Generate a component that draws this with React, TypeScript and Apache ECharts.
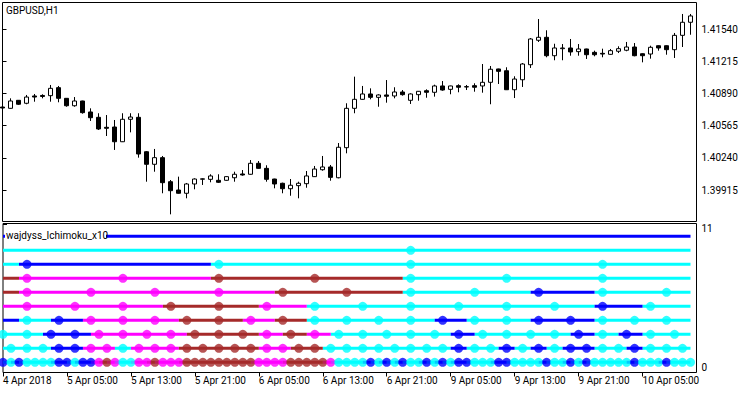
import React, { useEffect, useRef } from "react";
import * as echarts from "echarts";

const chartTitle = "GBPUSD,H1";
const indicatorName = "wajdyss_Ichimoku_x10";

// H1 bars starting 4 Apr 2018 21:00 (broker time), weekend skipped
const opens = [
  1.40754, 1.40741, 1.40822, 1.40792, 1.40866, 1.40871, 1.40869, 1.4095, 1.40842, 1.40767,
  1.40815, 1.40704, 1.4065, 1.40549, 1.40552, 1.40403, 1.4063, 1.4065, 1.40302, 1.40175,
  1.40242, 1.39999, 1.39915, 1.39882, 1.39976, 1.40024, 1.40023, 1.40013, 1.40013, 1.40039,
  1.40077, 1.40074, 1.40185, 1.40134, 1.40026, 1.39983, 1.39928, 1.39959, 1.39979, 1.4005,
  1.4012, 1.40148, 1.40039, 1.40343, 1.40741, 1.40832, 1.40886, 1.40852, 1.40876, 1.40866,
  1.40906, 1.40822, 1.40879, 1.40919, 1.40903, 1.40967, 1.40933, 1.4097, 1.4096, 1.4097,
  1.40967, 1.41004, 1.41139, 1.41121, 1.40929, 1.4103, 1.41182, 1.41429, 1.41459, 1.41273,
  1.41344, 1.41351, 1.41314, 1.41341, 1.41307, 1.41297, 1.41287, 1.41318, 1.41328, 1.41361,
  1.41293, 1.4129, 1.41374, 1.41374, 1.41334, 1.41479, 1.41611,
];
const closes = [
  1.40744, 1.40815, 1.40782, 1.40855, 1.40855, 1.40861, 1.40943, 1.40842, 1.40767, 1.40815,
  1.40697, 1.40646, 1.40532, 1.40539, 1.40403, 1.4063, 1.40653, 1.40279, 1.40175, 1.40242,
  1.39989, 1.39908, 1.39882, 1.39976, 1.40026, 1.40028, 1.40057, 1.39993, 1.4005, 1.40074,
  1.40067, 1.40185, 1.40134, 1.40023, 1.39976, 1.39928, 1.39963, 1.39983, 1.40057, 1.40127,
  1.40148, 1.40043, 1.40347, 1.40741, 1.40832, 1.40886, 1.40852, 1.40876, 1.40863, 1.40906,
  1.40879, 1.40886, 1.40913, 1.40903, 1.40967, 1.40926, 1.40967, 1.40954, 1.40957, 1.40954,
  1.41004, 1.41136, 1.41115, 1.40929, 1.41037, 1.41189, 1.41442, 1.41459, 1.41273, 1.41351,
  1.41351, 1.41311, 1.41341, 1.41283, 1.41283, 1.4129, 1.41324, 1.41344, 1.41361, 1.41273,
  1.41273, 1.41358, 1.41351, 1.41334, 1.41479, 1.41611, 1.41675,
];
const highs = [
  1.40764, 1.40842, 1.40825, 1.40876, 1.40886, 1.40883, 1.40977, 1.40967, 1.40845, 1.40855,
  1.40818, 1.40741, 1.40691, 1.40673, 1.40623, 1.40691, 1.40691, 1.40691, 1.40309, 1.4033,
  1.40259, 1.40016, 1.4005, 1.39986, 1.40033, 1.40033, 1.40074, 1.40074, 1.40054, 1.401,
  1.40117, 1.40218, 1.40208, 1.40165, 1.40029, 1.39989, 1.40026, 1.39999, 1.40107, 1.40158,
  1.40259, 1.40168, 1.4039, 1.40792, 1.41061, 1.40967, 1.40943, 1.40883, 1.41027, 1.40954,
  1.40926, 1.40893, 1.40916, 1.40933, 1.4098, 1.41017, 1.4097, 1.40984, 1.40977, 1.40994,
  1.41189, 1.41169, 1.41142, 1.41156, 1.41065, 1.41199, 1.41452, 1.41644, 1.4153, 1.41394,
  1.41391, 1.41442, 1.41391, 1.41344, 1.41324, 1.41344, 1.41341, 1.41368, 1.41412, 1.41401,
  1.41297, 1.41374, 1.41378, 1.41378, 1.41503, 1.41695, 1.41695,
];
const lows = [
  1.40734, 1.40737, 1.40775, 1.40782, 1.40808, 1.40842, 1.40808, 1.40802, 1.40757, 1.40757,
  1.40687, 1.40613, 1.40522, 1.40461, 1.4032, 1.404, 1.40498, 1.40242, 1.39999, 1.401,
  1.39882, 1.39669, 1.39878, 1.39831, 1.39922, 1.39966, 1.39993, 1.39986, 1.40009, 1.39999,
  1.4006, 1.4007, 1.4013, 1.39999, 1.39932, 1.39882, 1.39857, 1.39831, 1.39938, 1.40047,
  1.4011, 1.40009, 1.40033, 1.40286, 1.40691, 1.40828, 1.40832, 1.40757, 1.40798, 1.40842,
  1.40869, 1.40785, 1.40818, 1.40848, 1.40859, 1.40919, 1.40883, 1.40903, 1.40926, 1.40909,
  1.40899, 1.40782, 1.40987, 1.40926, 1.40845, 1.40957, 1.41149, 1.41412, 1.41257, 1.41227,
  1.41227, 1.41273, 1.41273, 1.4124, 1.41267, 1.41257, 1.41283, 1.413, 1.41318, 1.41267,
  1.41206, 1.41243, 1.41324, 1.41283, 1.4125, 1.41361, 1.41485,
];

const priceTicks = [1.39915, 1.4024, 1.40565, 1.4089, 1.41215, 1.4154];
const timeTickBars = [0, 8, 16, 24, 32, 40, 48, 56, 64, 72, 80];
const timeTickLabels = [
  "4 Apr 2018", "5 Apr 05:00", "5 Apr 13:00", "5 Apr 21:00", "6 Apr 05:00", "6 Apr 13:00",
  "6 Apr 21:00", "9 Apr 05:00", "9 Apr 13:00", "9 Apr 21:00", "10 Apr 05:00",
];

// Indicator rows (bottom = level 1). One letter per higher-timeframe bar,
// first letter = period containing the first visible bar.
// C = aqua, B = blue, M = magenta, R = brown
const rowTimeframes = ["H1", "H2", "H3", "H4", "H6", "H8", "H12", "D1", "W1", "MN1"];
const rowStates = [
  "BCBCCCCBBCBBMRMCCMMRMMMRRRRRRRRRMMMMRRRRRMCCCCBCBCBCCBCBCBBCCCBBCCCCBCCBCBCCCCCBCCCBCCC",
  "CCCCBBMMCMMMRRRRRMMRRCCCCCCCCBCCBCBCBBCCBCCC",
  "CCBBMMMMRRRMRMCCCCCBCCCCBCBCC",
  "BCBMMMRRMRCCCCBCCBBCCC",
  "MMMMRRMCCCCCCBC",
  "RMMMMRRCCBCC",
  "RMMRRCCC",
  "CBCCC",
  "CC",
  "B",
];
const stateColors: Record<string, string> = {
  C: "#00FFFF",
  B: "#0000FF",
  M: "#FF00FF",
  R: "#A52A2A",
};
const axisTopLabel = "11";
const axisBottomLabel = "0";

const FONT = "Roboto";

function barTimes(n: number): Date[] {
  const out: Date[] = [];
  let t = Date.UTC(2018, 3, 4, 21);
  while (out.length < n) {
    const d = new Date(t);
    const wd = d.getUTCDay();
    if (wd !== 0 && wd !== 6) out.push(d);
    t += 3600000;
  }
  return out;
}

function isPeriodStart(tf: string, d: Date): boolean {
  const h = d.getUTCHours();
  if (tf === "D1") return h === 0;
  if (tf === "W1") return h === 0 && d.getUTCDay() === 1;
  if (tf === "MN1") return h === 0 && d.getUTCDate() === 1;
  const hrs = parseInt(tf.slice(1), 10);
  return h % hrs === 0;
}

export default function App() {
  const ref = useRef<HTMLDivElement>(null);

  useEffect(() => {
    if (!ref.current) return;
    const chart = echarts.init(ref.current, undefined, { renderer: "svg" });
    const n = opens.length;
    const times = barTimes(n);

    const candleData = opens.map((o, i) => [i, o, closes[i], lows[i], highs[i]]);

    const lineData: Record<string, any[]> = { C: [], B: [], M: [], R: [] };
    const dots: any[] = [];
    rowTimeframes.forEach((tf, r) => {
      const level = r + 1;
      const states = rowStates[r];
      const cols: string[] = [];
      let idx = 0;
      for (let i = 0; i < n; i++) {
        const start = isPeriodStart(tf, times[i]);
        if (i > 0 && start) idx++;
        const c = states[Math.min(idx, states.length - 1)];
        cols.push(c);
        if (start) dots.push({ value: [i, level], itemStyle: { color: stateColors[c] } });
      }
      let i = 0;
      while (i < n) {
        const c = cols[i];
        let k = i;
        while (k + 1 < n && cols[k + 1] === c) k++;
        const from = Math.max(0, i - 1);
        for (let j = from; j <= k; j++) lineData[c].push([j, level]);
        lineData[c].push([k + 0.5, "-"]);
        i = k + 1;
      }
    });

    const gridLeft = 2.5;
    const gridRight = 750 - 696.5;
    const xMin = 0;
    const xMax = 86.75;

    const priceMax = 1.41811;
    const priceMin = 1.395965;
    const lvlMin = 0.2714;
    const lvlMax = 10.914;

    const lineSeries = Object.keys(lineData).map((c) => ({
      type: "line",
      xAxisIndex: 1,
      yAxisIndex: 1,
      data: lineData[c],
      showSymbol: false,
      symbol: "none",
      connectNulls: false,
      lineStyle: { color: stateColors[c], width: 3 },
      z: 2,
      silent: true,
    }));

    chart.setOption({
      animation: false,
      backgroundColor: "#ffffff",
      textStyle: { fontFamily: FONT },
      grid: [
        {
          left: gridLeft, right: gridRight, top: 2.5, height: 219,
          show: true, borderColor: "#000", borderWidth: 1, backgroundColor: "#fff",
        },
        {
          left: gridLeft, right: gridRight, top: 223.5, height: 149,
          show: true, borderColor: "#000", borderWidth: 1, backgroundColor: "#fff",
        },
      ],
      xAxis: [
        {
          type: "value", gridIndex: 0, min: xMin, max: xMax, show: false,
          splitLine: { show: false },
        },
        {
          type: "value", gridIndex: 1, min: xMin, max: xMax,
          axisLine: { show: false },
          splitLine: { show: false },
          axisTick: {
            show: true, length: 4, inside: false, customValues: timeTickBars,
            lineStyle: { color: "#000", width: 1 },
          },
          axisLabel: {
            show: true, customValues: timeTickBars, align: "left", verticalAlign: "top",
            margin: 3, fontSize: 10, color: "#000", fontFamily: FONT,
            formatter: (v: number) => {
              const k = timeTickBars.indexOf(Math.round(v));
              return k >= 0 ? timeTickLabels[k] : "";
            },
          },
        },
      ],
      yAxis: [
        {
          type: "value", gridIndex: 0, position: "right", min: priceMin, max: priceMax,
          scale: true,
          axisLine: { show: false },
          splitLine: { show: false },
          axisTick: {
            show: true, length: 4, customValues: priceTicks,
            lineStyle: { color: "#000", width: 1 },
          },
          axisLabel: {
            show: true, customValues: priceTicks, margin: 5, fontSize: 10, color: "#000",
            fontFamily: FONT, formatter: (v: number) => v.toFixed(5),
          },
        },
        {
          type: "value", gridIndex: 1, position: "right", min: lvlMin, max: lvlMax,
          axisLine: { show: false },
          splitLine: { show: false },
          axisTick: {
            show: true, length: 4, customValues: [0.3, 10.89],
            lineStyle: { color: "#000", width: 1 },
          },
          axisLabel: {
            show: true, customValues: [0.614, 10.543], margin: 5, fontSize: 10, color: "#000",
            fontFamily: FONT,
            formatter: (v: number) => (v > 5 ? axisTopLabel : axisBottomLabel),
          },
        },
      ],
      series: [
        {
          type: "candlestick",
          xAxisIndex: 0,
          yAxisIndex: 0,
          data: candleData,
          dimensions: ["x", "open", "close", "lowest", "highest"],
          encode: { x: "x", y: ["open", "close", "lowest", "highest"] },
          barWidth: 4,
          itemStyle: {
            color: "#ffffff",
            color0: "#000000",
            borderColor: "#000000",
            borderColor0: "#000000",
            borderColorDoji: "#000000",
            borderWidth: 1,
          },
          silent: true,
        },
        ...lineSeries,
        {
          type: "scatter",
          xAxisIndex: 1,
          yAxisIndex: 1,
          data: dots,
          symbol: "circle",
          symbolSize: 9,
          z: 3,
          silent: true,
        },
      ],
      graphic: [
        {
          type: "text",
          left: 6, top: 5,
          style: { text: chartTitle, fill: "#000", font: `10px ${FONT}` },
          z: 100,
        },
        {
          type: "rect",
          shape: { x: 5, y: 231, width: 101, height: 10 },
          style: { fill: "#fff" },
          z: 100,
        },
        {
          type: "text",
          x: 6, y: 235,
          style: {
            text: indicatorName, fill: "#000", font: `10px ${FONT}`,
            verticalAlign: "middle", align: "left",
          },
          z: 101,
        },
      ],
    });

    return () => chart.dispose();
  }, []);

  return (
    <div
      ref={ref}
      style={{ position: "absolute", left: 0, top: 0, width: 750, height: 394, background: "#fff" }}
    />
  );
}
